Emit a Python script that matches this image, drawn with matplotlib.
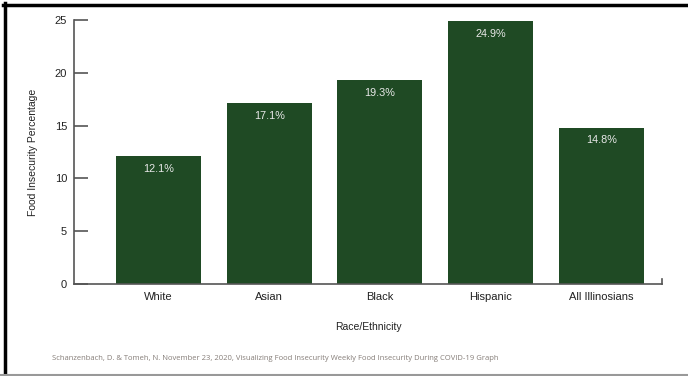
import matplotlib
matplotlib.use("Agg")
import matplotlib.pyplot as plt
from matplotlib.lines import Line2D

# Datos del gráfico
GRUPOS = ["White", "Asian", "Black", "Hispanic", "All Illinosians"]
PORCENTAJES = [12.1, 17.1, 19.3, 24.9, 14.8]
ETIQUETAS = ["12.1%", "17.1%", "19.3%", "24.9%", "14.8%"]
Y_TICKS = [0, 5, 10, 15, 20, 25]

VERDE = "#1f4a24"
FUENTE = "Liberation Sans"

plt.rcParams["font.family"] = [FUENTE, "DejaVu Sans"]

W, H = 688, 376
fig = plt.figure(figsize=(W / 100, H / 100), dpi=100)
ax = fig.add_axes([74 / W, 1 - 284 / H, (662 - 74) / W, (284 - 20) / H])

x = list(range(len(GRUPOS)))
barras = ax.bar(x, PORCENTAJES, width=0.77, color=VERDE)

# Etiquetas dentro de las barras
for xi, val, txt in zip(x, PORCENTAJES, ETIQUETAS):
    ax.annotate(txt, (xi, val), xytext=(0, -9), textcoords="offset points",
                ha="center", va="center", color="#e8e8e8", fontsize=7.8)

ax.set_xlim(-0.765, 4.55)
ax.set_ylim(0, 25)
ax.set_yticks(Y_TICKS)
ax.set_xticks(x)
ax.set_xticklabels(GRUPOS, fontsize=8, color="#222222")
ax.tick_params(axis="x", length=0, pad=6)
ax.tick_params(axis="y", direction="in", length=10, width=1.2, color="#555555",
               labelsize=8, labelcolor="#222222", pad=5)

for lado in ["top", "right"]:
    ax.spines[lado].set_visible(False)
for lado in ["left", "bottom"]:
    ax.spines[lado].set_color("#555555")
    ax.spines[lado].set_linewidth(1.2)

# pequeña marca al final del eje x
ax.plot([1, 1], [0, 0.02], transform=ax.transAxes, color="#555555", lw=1.2,
        clip_on=False)

ax.set_ylabel("Food Insecurity Percentage", fontsize=7.5, color="#222222",
              labelpad=12)
ax.set_xlabel("Race/Ethnicity", fontsize=7.5, color="#222222", labelpad=14)

# Fuente de los datos
fig.text(52 / W, 1 - 358 / H,
         "Schanzenbach, D. & Tomeh, N. November 23, 2020, Visualizing Food Insecurity "
         "Weekly Food Insecurity During COVID-19 Graph",
         fontsize=5.5, color="#857d78", family="Open Sans", va="center")

# Marco de la imagen
fig.add_artist(Line2D([4.5 / W, 4.5 / W], [0, 1 - 3 / H], color="black", lw=2.5))
fig.add_artist(Line2D([3 / W, 1], [1 - 4.5 / H, 1 - 4.5 / H], color="black", lw=2.5))
fig.add_artist(Line2D([0, 1], [1.5 / H, 1.5 / H], color="#999999", lw=1.5))

fig.savefig("out.png", dpi=100)
